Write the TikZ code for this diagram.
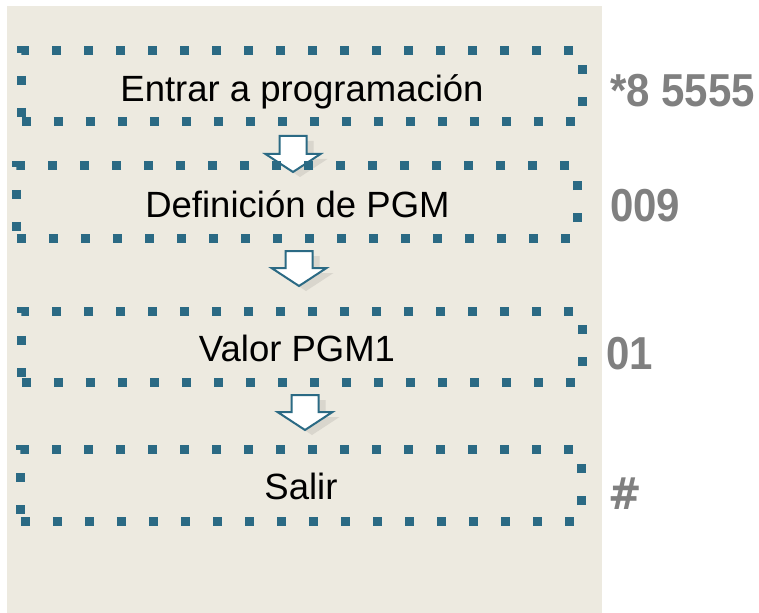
\documentclass[tikz,border=0pt]{standalone}
\usepackage{fontspec}
\setmainfont{Liberation Sans}
\newfontfamily\hashfont{DejaVu Sans}
\definecolor{bgbeige}{HTML}{EDEAE0}
\definecolor{dotteal}{HTML}{2B6A84}
\definecolor{codegray}{HTML}{808080}
\definecolor{shadowgray}{HTML}{D9D6CD}
\tikzset{
  stepbox/.style={draw=dotteal, line width=9bp, dash pattern=on 9bp off 23bp,
    minimum width=560bp, minimum height=71bp, inner sep=0pt},
  steptext/.style={anchor=base, inner sep=0pt, text=black,
    font=\fontsize{36.5bp}{40bp}\selectfont},
  codelabel/.style={anchor=west, inner sep=0pt, text=codegray,
    font=\fontsize{42bp}{48bp}\selectfont\bfseries},
  blockarrow/.style={draw=dotteal, line width=2bp, fill=white, line join=miter},
  blockshadow/.style={fill=shadowgray, draw=none}
}
\newcommand{\myblockarrow}[3]{% cx, top, tip
  \fill[blockshadow] ({#1-13.5+7},{#2+5}) -- ({#1+13.5+7},{#2+5}) -- ({#1+13.5+7},{#3-18+5}) -- ({#1+27.5+7},{#3-18+5}) -- ({#1+7},{#3+5}) -- ({#1-27.5+7},{#3-18+5}) -- ({#1-13.5+7},{#3-18+5}) -- cycle;
  \draw[blockarrow] ({#1-13.5},{#2}) -- ({#1+13.5},{#2}) -- ({#1+13.5},{#3-18}) -- ({#1+27.5},{#3-18}) -- ({#1},{#3}) -- ({#1-27.5},{#3-18}) -- ({#1-13.5},{#3-18}) -- cycle;
}
\begin{document}
\begin{tikzpicture}[x=1bp,y=-1bp]
\useasboundingbox (0,0) rectangle (759,613);
\fill[bgbeige] (7,6) rectangle (602,613);

\myblockarrow{293}{136}{172}
\myblockarrow{299}{251}{286}
\myblockarrow{305}{395}{430}

\node[stepbox] (b1) at (302,86.5) {};
\node[stepbox, minimum height=72bp] (b2) at (297,202) {};
\node[stepbox] (b3) at (302,346.5) {};
\node[stepbox, minimum height=72bp] (b4) at (301,485) {};

\node[steptext] (t1) at (302,102) {Entrar a programación};
\node[steptext] (t2) at (297.5,218) {Definición de PGM};
\node[steptext] (t3) at (297,361) {Valor PGM1};
\node[steptext] (t4) at (301,499) {Salir};

\node[codelabel] (c1) at (610,91) {\scalebox{1}[1.1]{*8 5555}};
\node[codelabel] (c2) at (610,206) {\scalebox{1}[1.1]{009}};
\node[codelabel] (c3) at (606,354) {\scalebox{1}[1.1]{01}};
\node[codelabel] (c4) at (608,494) {\scalebox{0.95}[1.05]{\hashfont\bfseries\#}};
\end{tikzpicture}
\end{document}
